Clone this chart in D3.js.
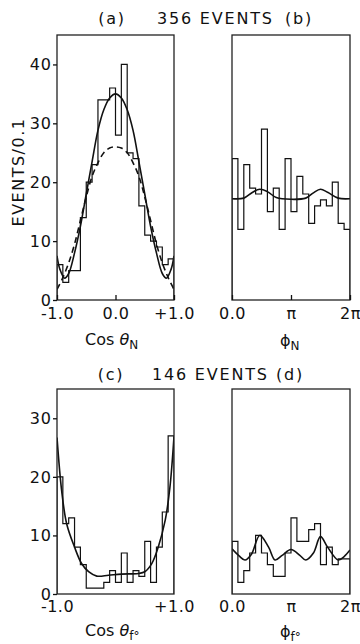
<!DOCTYPE html>
<html>
<head>
<meta charset="utf-8">
<script src="https://cdn.jsdelivr.net/npm/d3@7"></script>
<style>
  body { margin: 0; background: #fff; }
  text { font-family: "DejaVu Sans", sans-serif; fill: #111; }
</style>
</head>
<body>
<svg id="chart" width="360" height="644"></svg>
<script>
// bin edges (cos theta) and (phi, in units of pi)
const cosEdges = [-1.0, -0.9, -0.8, -0.7, -0.6, -0.5, -0.4, -0.3, -0.2, -0.1, 0.0,
                  0.1, 0.2, 0.3, 0.4, 0.5, 0.6, 0.7, 0.8, 0.9, 1.0];
const phiEdges = [0.0, 0.1, 0.2, 0.3, 0.4, 0.5, 0.6, 0.7, 0.8, 0.9, 1.0,
                  1.1, 1.2, 1.3, 1.4, 1.5, 1.6, 1.7, 1.8, 1.9, 2.0];

// histogram counts, events / bin
const countsA = [6, 3, 5, 5, 14, 20, 23, 34, 34, 36, 28, 40, 25, 24, 16, 11, 10, 9, 6, 7];
const countsB = [24, 12, 23, 19, 18, 29, 15, 19, 12, 24, 15, 21, 18, 13, 16, 17, 16, 20, 13, 12];
const countsC = [20, 12, 13, 8, 5, 1, 1, 1, 2, 4, 2, 7, 2, 4, 3, 9, 2, 8, 14, 27];
const countsD = [9, 2, 4, 7, 10, 7, 5, 3, 3, 7, 13, 9, 9, 11, 12, 5, 8, 5, 6, 6];

// fitted curves
const fitAx = [-1.0, -0.95, -0.87, -0.8, -0.7, -0.6, -0.5, -0.4, -0.3, -0.2, -0.1, 0.0,
               0.1, 0.2, 0.3, 0.4, 0.5, 0.6, 0.7, 0.8, 0.87, 0.95, 1.0];
const fitA  = [7.5, 5.2, 3.7, 4.5, 8, 12.5, 18, 23.5, 28.8, 32.3, 34.3, 35,
               34.3, 32.3, 28.8, 23.5, 18, 12.5, 8, 4.5, 3.7, 5.2, 7.5];
const dashAx = [-1.0, -0.9, -0.8, -0.7, -0.6, -0.5, -0.4, -0.3, -0.2, -0.1, 0.0,
                0.1, 0.2, 0.3, 0.4, 0.5, 0.6, 0.7, 0.8, 0.9, 1.0];
const dashA  = [1.8, 3.8, 6.3, 9.5, 13.5, 17.5, 21, 23.3, 25, 25.8, 26,
                25.8, 25, 23.3, 21, 17.5, 13.5, 9.5, 6.3, 3.8, 1.8];

const fitBx = [0, 0.2, 0.35, 0.47, 0.6, 0.75, 1.0, 1.25, 1.38, 1.5, 1.62, 1.8, 2.0];
const fitB  = [17.2, 17.3, 18.3, 18.8, 18.4, 17.4, 17.1, 17.3, 18.2, 18.8, 18.3, 17.3, 17.2];

const fitCx = [-1.0, -0.92, -0.835, -0.7, -0.58, -0.46, -0.32, -0.12, 0.1, 0.39, 0.5, 0.62, 0.73, 0.85, 0.93, 1.0];
const fitC  = [26.7, 17.6, 12, 8, 5.2, 3.8, 3.05, 3.2, 3.4, 3.5, 3.8, 5.2, 8, 12.6, 18.2, 26.9];

const fitDx = [0, 0.12, 0.22, 0.33, 0.47, 0.62, 0.73, 0.85, 1.0, 1.15, 1.25, 1.38, 1.5, 1.62, 1.8, 1.9, 2.0];
const fitD  = [7.7, 6.5, 5.8, 6.8, 10, 8, 5.8, 6.6, 7.6, 6.6, 5.8, 7.0, 9.8, 8.0, 5.8, 6.4, 7.5];

const ticksTop = [0, 10, 20, 30, 40];
const ticksBottom = [0, 10, 20, 30];

const svg = d3.select('#chart');

function drawPanel({ left, right, top, bottom, xDomain, yMax, edges, counts, curves,
                     yTicks, xLabels, midTick, labelPad, id }) {
  const x = d3.scaleLinear().domain(xDomain).range([left, right]);
  const y = d3.scaleLinear().domain([0, yMax]).range([bottom, top]);

  svg.append('clipPath').attr('id', id)
    .append('rect')
    .attr('x', left).attr('y', top)
    .attr('width', right - left).attr('height', bottom - top);

  const g = svg.append('g').attr('clip-path', `url(#${id})`);

  // histogram outline
  const pts = [[edges[0], 0]];
  counts.forEach((c, i) => pts.push([edges[i], c]));
  pts.push([edges[edges.length - 1], counts[counts.length - 1]]);
  pts.push([edges[edges.length - 1], 0]);

  g.append('path')
    .datum(pts)
    .attr('fill', 'none')
    .attr('stroke', '#111')
    .attr('stroke-width', 1.2)
    .attr('d', d3.line().x(d => x(d[0])).y(d => y(d[1])).curve(d3.curveStepAfter));

  curves.forEach(cv => {
    g.append('path')
      .datum(cv.xs.map((v, i) => [v, cv.vs[i]]))
      .attr('fill', 'none')
      .attr('stroke', '#111')
      .attr('stroke-width', 1.6)
      .attr('stroke-dasharray', cv.dashed ? '6,4' : null)
      .attr('d', d3.line().x(d => x(d[0])).y(d => y(d[1])).curve(d3.curveCatmullRom));
  });

  // frame
  svg.append('rect')
    .attr('x', left).attr('y', top)
    .attr('width', right - left).attr('height', bottom - top)
    .attr('fill', 'none')
    .attr('stroke', '#222')
    .attr('stroke-width', 1.3);

  if (yTicks) {
    const ya = svg.append('g')
      .attr('transform', `translate(${left},0)`)
      .call(d3.axisLeft(y).tickValues(yTicks).tickSize(4).tickPadding(1).tickFormat(d3.format('d')));
    ya.select('.domain').remove();
    ya.selectAll('line').attr('stroke', '#111').attr('stroke-width', 1.3);
    ya.selectAll('text')
      .attr('font-size', 16)
      .attr('letter-spacing', 1)
      .attr('dy', '0.33em')
      .attr('font-family', '"DejaVu Sans", sans-serif');
  }

  const xa = svg.append('g')
    .attr('transform', `translate(0,${bottom})`)
    .call(d3.axisBottom(x)
      .tickValues(xLabels.map(d => d.v))
      .tickSize(midTick ? -5 : 0)
      .tickPadding(labelPad)
      .tickFormat((d, i) => xLabels[i].label));
  xa.select('.domain').remove();
  xa.selectAll('line').attr('stroke', '#111').attr('stroke-width', 1.3);
  xa.selectAll('text')
    .attr('font-size', 16)
    .attr('letter-spacing', 0.5)
    .attr('font-family', '"DejaVu Sans", sans-serif');
  return { x, y };
}

drawPanel({
  id: 'clipA', left: 57, right: 174, top: 35, bottom: 300,
  xDomain: [-1, 1], yMax: 45, edges: cosEdges, counts: countsA,
  curves: [{ xs: fitAx, vs: fitA }, { xs: dashAx, vs: dashA, dashed: true }],
  yTicks: ticksTop, midTick: true, labelPad: 8,
  xLabels: [{ v: -1, label: '-1.0' }, { v: 0, label: '0.0' }, { v: 1, label: '+1.0' }]
});

drawPanel({
  id: 'clipB', left: 232, right: 350, top: 35, bottom: 300,
  xDomain: [0, 2], yMax: 45, edges: phiEdges, counts: countsB,
  curves: [{ xs: fitBx, vs: fitB }],
  yTicks: null, midTick: true, labelPad: 8,
  xLabels: [{ v: 0, label: '0.0' }, { v: 1, label: '\u03c0' }, { v: 2, label: '2\u03c0' }]
});

drawPanel({
  id: 'clipC', left: 57, right: 174, top: 389, bottom: 594,
  xDomain: [-1, 1], yMax: 35, edges: cosEdges, counts: countsC,
  curves: [{ xs: fitCx, vs: fitC }],
  yTicks: ticksBottom, midTick: false, labelPad: 7,
  xLabels: [{ v: -1, label: '-1.0' }, { v: 1, label: '+1.0' }]
});

drawPanel({
  id: 'clipD', left: 232, right: 350, top: 389, bottom: 594,
  xDomain: [0, 2], yMax: 35, edges: phiEdges, counts: countsD,
  curves: [{ xs: fitDx, vs: fitD }],
  yTicks: null, midTick: false, labelPad: 7,
  xLabels: [{ v: 0, label: '0.0' }, { v: 1, label: '\u03c0' }, { v: 2, label: '2\u03c0' }]
});

// titles
function label(x, y, txt, anchor) {
  return svg.append('text')
    .attr('x', x).attr('y', y)
    .attr('text-anchor', anchor || 'middle')
    .attr('font-size', 16)
    .attr('letter-spacing', 1.8)
    .text(txt);
}
label(112, 24, '(a)');
label(157, 24, '356 EVENTS', 'start');
label(299, 24, '(b)');
label(111, 380, '(c)');
label(152, 380, '146 EVENTS', 'start');
label(290, 380, '(d)');

// y axis title
svg.append('text')
  .attr('transform', 'translate(24,172) rotate(-90)')
  .attr('text-anchor', 'middle')
  .attr('font-size', 16)
  .attr('letter-spacing', 1.5)
  .text('EVENTS/0.1');

// axis titles
function axisTitle(x, y, main, greek, sub, italic) {
  const t = svg.append('text').attr('x', x).attr('y', y).attr('font-size', 16);
  if (main) t.append('tspan').text(main);
  t.append('tspan').attr('font-style', italic ? 'italic' : null).text(greek);
  t.append('tspan').attr('font-size', 12).attr('dy', 4).text(sub);
}
axisTitle(85, 345, 'Cos ', '\u03b8', 'N', true);
axisTitle(280, 346, '', '\u03d5', 'N', false);
axisTitle(85, 636, 'Cos ', '\u03b8', 'f\u00b0', true);
axisTitle(280, 637, '', '\u03d5', 'f\u00b0', false);
</script>
</body>
</html>
